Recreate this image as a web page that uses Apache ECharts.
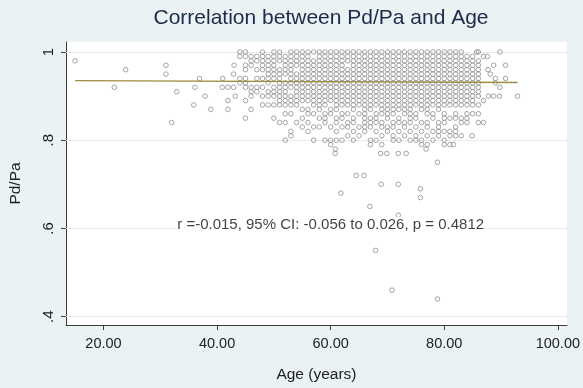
<!DOCTYPE html>
<html>
<head>
<meta charset="utf-8">
<script src="https://cdn.jsdelivr.net/npm/echarts@6/dist/echarts.min.js"></script>
<style>
  html, body { margin: 0; padding: 0; background: #eaf2f3; }
  #chart { width: 583px; height: 388px; }
</style>
</head>
<body>
<div id="chart"></div>
<script>
// dense cloud: one list of Pd/Pa (in hundredths) per whole year of age
const denseAges = [44, 45, 46, 47, 48, 49, 50, 51, 52, 53, 54, 55, 56, 57, 58, 59, 60, 61, 62, 63, 64,
  65, 66, 67, 68, 69, 70, 71, 72, 73, 74, 75, 76, 77, 78, 79, 80, 81, 82, 83, 84, 85, 86];
const pdpaByAge = [
  [100, 99, 94, 93],
  [100, 99, 97, 96, 94, 93, 92, 89, 85],
  [99, 98, 97, 92, 91, 90, 87],
  [99, 98, 96, 94, 92, 91],
  [100, 99, 98, 97, 96, 94, 92, 90, 88],
  [99, 98, 97, 96, 95, 94, 93, 91, 90, 88],
  [100, 99, 98, 97, 96, 95, 94, 92, 91, 90, 88, 85],
  [100, 99, 98, 96, 95, 94, 93, 92, 91, 90, 89, 88, 84],
  [99, 98, 97, 96, 95, 93, 92, 91, 90, 89, 88, 86, 84, 80],
  [100, 99, 98, 97, 96, 95, 94, 93, 92, 90, 89, 88, 86, 82, 81],
  [100, 99, 98, 97, 95, 94, 93, 92, 91, 90, 89, 88, 84],
  [100, 99, 98, 97, 96, 95, 94, 93, 92, 91, 90, 89, 87, 85, 83],
  [100, 99, 98, 97, 96, 95, 94, 93, 92, 91, 90, 89, 87, 86, 84, 82],
  [100, 98, 97, 96, 95, 94, 93, 92, 91, 90, 89, 88, 86, 83, 80],
  [100, 99, 98, 97, 96, 95, 94, 93, 92, 91, 90, 89, 88, 87, 85, 83],
  [100, 99, 98, 97, 96, 95, 94, 93, 92, 91, 90, 89, 88, 86, 85, 84, 80],
  [100, 99, 98, 97, 96, 95, 94, 93, 92, 91, 90, 89, 87, 86, 83, 80, 79],
  [100, 99, 98, 97, 96, 95, 94, 93, 92, 91, 90, 89, 88, 87, 85, 84, 82, 80],
  [100, 99, 98, 97, 96, 95, 94, 93, 92, 91, 90, 89, 88, 86, 85, 83, 80],
  [100, 99, 98, 96, 95, 94, 93, 92, 91, 90, 89, 88, 86, 84, 83, 81],
  [100, 99, 98, 97, 96, 95, 94, 93, 92, 91, 90, 89, 88, 87, 85, 84, 82, 80],
  [100, 99, 98, 97, 96, 95, 94, 93, 92, 91, 90, 89, 88, 86, 83, 81],
  [100, 99, 98, 97, 96, 95, 94, 93, 92, 91, 90, 89, 88, 87, 86, 85, 84, 83, 82],
  [100, 99, 98, 97, 96, 95, 94, 93, 92, 91, 90, 89, 88, 87, 85, 84, 83, 80, 79],
  [100, 99, 98, 97, 96, 95, 94, 93, 92, 91, 90, 89, 88, 86, 85, 84, 82, 80],
  [100, 99, 98, 97, 96, 95, 94, 93, 92, 91, 90, 89, 88, 87, 86, 84, 83, 81, 79],
  [100, 99, 98, 97, 96, 95, 94, 93, 92, 91, 90, 89, 88, 87, 86, 85, 83, 82],
  [100, 99, 98, 97, 96, 95, 94, 93, 92, 91, 90, 89, 88, 87, 86, 84, 83, 81, 80],
  [100, 99, 98, 97, 96, 95, 94, 93, 92, 91, 90, 89, 88, 87, 85, 84, 82, 80],
  [100, 99, 98, 97, 96, 95, 94, 93, 92, 91, 90, 89, 88, 87, 86, 84, 83, 81],
  [100, 99, 98, 97, 96, 95, 94, 93, 92, 91, 90, 89, 88, 87, 86, 85, 84, 82, 80],
  [100, 99, 98, 97, 96, 95, 94, 93, 92, 91, 90, 89, 88, 86, 85, 83, 81, 80],
  [100, 99, 98, 97, 96, 95, 94, 93, 92, 91, 90, 89, 88, 87, 84, 82, 80, 79],
  [100, 99, 98, 97, 96, 95, 94, 93, 92, 91, 90, 89, 88, 87, 86, 84, 83, 81, 79],
  [100, 99, 98, 97, 96, 95, 94, 93, 92, 91, 90, 89, 88, 86, 85, 82, 80],
  [100, 99, 98, 97, 96, 95, 94, 93, 92, 91, 90, 89, 88, 87, 84, 83, 82, 81],
  [100, 99, 98, 97, 96, 95, 94, 93, 92, 91, 90, 89, 88, 86, 85, 84, 82, 80, 79],
  [100, 99, 98, 97, 96, 95, 94, 93, 92, 91, 90, 89, 88, 85, 82, 81, 79],
  [100, 99, 98, 97, 96, 95, 94, 93, 92, 91, 90, 89, 88, 86, 85, 83, 82, 81],
  [100, 99, 98, 97, 96, 95, 94, 93, 92, 91, 90, 89, 88, 85, 84, 81],
  [99, 98, 97, 96, 95, 94, 93, 92, 91, 90, 89, 88, 86, 85, 84],
  [99, 98, 97, 96, 95, 94, 93, 92, 91, 90, 89, 88, 86],
  [100, 98, 97, 96, 95, 94, 93, 92, 91, 90, 88, 86, 84]
];

// scattered points away from the cloud
const otherAge = [15.0, 21.9, 23.9, 31.0, 31.0, 32.0, 32.9, 35.9, 36.1, 36.9, 37.9, 38.9, 40.9, 41.0,
  41.9, 41.9, 41.9, 42.9, 42.9, 43.2, 43.0,
  60.8, 60.8, 64.5, 65.9, 61.8, 68.9, 71.9, 75.8, 75.8, 66.9, 71.9, 67.9, 68.8, 69.9, 71.9, 73.3,
  78.8, 76.8, 70.8, 78.8,
  85.7, 89.8, 87.6, 86.9, 90.8, 88.7, 87.7, 88.1, 90.8, 89.0, 89.0, 89.8, 87.8, 88.7, 89.7, 92.9,
  86.9, 86.9, 84.9, 81.6];
const otherPdpa = [0.98, 0.92, 0.96, 0.97, 0.95, 0.84, 0.91, 0.88, 0.92, 0.94, 0.90, 0.87, 0.92, 0.94,
  0.92, 0.89, 0.87, 0.95, 0.92, 0.90, 0.97,
  0.78, 0.77, 0.72, 0.72, 0.68, 0.70, 0.70, 0.69, 0.67, 0.65, 0.63, 0.55, 0.77, 0.77, 0.77, 0.77,
  0.75, 0.78, 0.46, 0.44,
  1.00, 1.00, 0.99, 0.99, 0.97, 0.97, 0.96, 0.95, 0.94, 0.94, 0.93, 0.92, 0.90, 0.90, 0.90, 0.90,
  0.89, 0.84, 0.81, 0.79];

// linear fit
const fitAge = [15, 92.9];
const fitPdpa = [0.9352, 0.9307];

const xTicks = [20, 40, 60, 80, 100];
const yTicks = [0.4, 0.6, 0.8, 1];
const note = 'r =-0.015, 95% CI: -0.056 to 0.026, p = 0.4812';
const noteAt = [60, 0.607];

const points = [];
denseAges.forEach((a, i) => pdpaByAge[i].forEach((p) => points.push([a, p / 100])));
otherAge.forEach((a, i) => points.push([a, otherPdpa[i]]));

const chart = echarts.init(document.getElementById('chart'));
const font = 'Liberation Sans, Arial, sans-serif';
const axisColor = '#3c3c3c';

chart.setOption({
  backgroundColor: '#eaf2f3',
  animation: false,
  title: {
    text: 'Correlation between Pd/Pa and Age',
    left: 316,
    top: 3,
    textAlign: 'center',
    textStyle: { fontFamily: font, fontSize: 21, fontWeight: 'normal', color: '#1c2b4a' },
  },
  grid: {
    left: 65, right: 16, top: 42, bottom: 63,
    show: true, backgroundColor: '#ffffff', borderWidth: 0,
  },
  xAxis: {
    type: 'value',
    min: 13.4,
    max: 101.6,
    name: 'Age (years)',
    nameLocation: 'middle',
    nameGap: 42,
    nameTextStyle: { fontFamily: font, fontSize: 15.5, color: '#222' },
    axisLine: { show: true, onZero: false, lineStyle: { color: axisColor, width: 1 } },
    axisTick: { show: true, customValues: xTicks, length: 5, lineStyle: { color: axisColor } },
    axisLabel: {
      customValues: xTicks, margin: 11,
      fontFamily: font, fontSize: 14.5, color: '#222',
      formatter: (v) => v.toFixed(2),
    },
    splitLine: { show: false },
  },
  yAxis: {
    type: 'value',
    min: 0.381,
    max: 1.0227,
    name: 'Pd/Pa',
    nameLocation: 'middle',
    nameGap: 42,
    nameTextStyle: { fontFamily: font, fontSize: 15.5, color: '#222' },
    axisLine: { show: true, onZero: false, lineStyle: { color: axisColor, width: 1 } },
    axisTick: { show: true, customValues: yTicks, length: 5, lineStyle: { color: axisColor } },
    axisLabel: {
      customValues: yTicks, margin: 10, rotate: 90,
      fontFamily: font, fontSize: 15, color: '#222',
      formatter: (v) => (v === 1 ? '1' : String(v).replace(/^0/, '')),
    },
    splitLine: { show: false },
  },
  series: [
    {
      type: 'line',
      data: [],
      z: 1,
      markLine: {
        silent: true,
        z: 1,
        symbol: 'none',
        label: { show: false },
        lineStyle: { color: '#e4ecee', width: 1, type: 'solid' },
        data: yTicks.map((v) => ({ yAxis: v })),
      },
    },
    {
      type: 'scatter',
      data: points,
      z: 2,
      symbol: 'circle',
      symbolSize: 4.6,
      itemStyle: { color: 'rgba(0,0,0,0)', borderColor: '#8e8e8e', borderWidth: 1 },
    },
    {
      type: 'line',
      data: fitAge.map((a, i) => [a, fitPdpa[i]]),
      z: 3,
      showSymbol: false,
      lineStyle: { color: '#a08c42', width: 1.4 },
    },
    {
      type: 'scatter',
      data: [noteAt],
      z: 4,
      symbolSize: 0,
      label: {
        show: true, position: 'inside', formatter: note,
        fontFamily: font, fontSize: 15, color: '#111',
        backgroundColor: '#ffffff', padding: [1, 2],
      },
    },
  ],
});
</script>
</body>
</html>
